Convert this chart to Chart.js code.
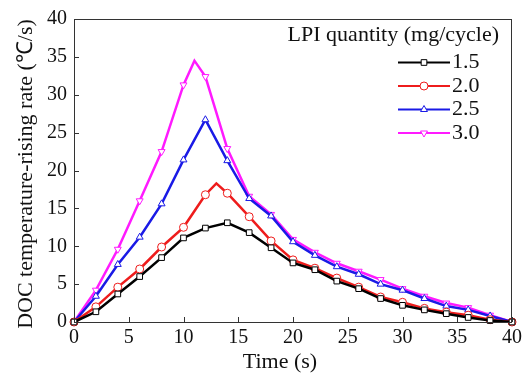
<!DOCTYPE html>
<html>
<head>
<meta charset="utf-8">
<script src="https://cdn.jsdelivr.net/npm/chart.js@4/dist/chart.umd.min.js"></script>
<style>
  html, body { margin: 0; padding: 0; background: #fff; }
  #wrap { width: 532px; height: 381px; }
</style>
</head>
<body>
<div id="wrap"><canvas id="chart" width="532" height="381"></canvas></div>
<script>
const seriesNames = ["1.5", "2.0", "2.5", "3.0"];
const legendTitle = "LPI quantity (mg/cycle)";
const xTitle = "Time (s)";
const yTitle = "DOC temperature-rising rate (\u2103/s)";

// time points (s); the 2.0 and 3.0 curves have an extra peak point with no marker
const time15 = [0, 2, 4, 6, 8, 10, 12, 14, 16, 18, 20, 22, 24, 26, 28, 30, 32, 34, 36, 38, 40];
const time20 = [0, 2, 4, 6, 8, 10, 12, 13, 14, 16, 18, 20, 22, 24, 26, 28, 30, 32, 34, 36, 38, 40];
const time25 = [0, 2, 4, 6, 8, 10, 12, 14, 16, 18, 20, 22, 24, 26, 28, 30, 32, 34, 36, 38, 40];
const time30 = [0, 2, 4, 6, 8, 10, 11, 12, 14, 16, 18, 20, 22, 24, 26, 28, 30, 32, 34, 36, 38, 40];

const rate15 = [0, 1.35, 3.7, 6.0, 8.5, 11.1, 12.4, 13.1, 11.8, 9.8, 7.8, 6.9, 5.4, 4.4, 3.1, 2.2, 1.6, 1.1, 0.6, 0.2, 0];
const rate20 = [0, 2.0, 4.6, 7.0, 9.9, 12.5, 16.8, 18.3, 17.0, 13.9, 10.7, 8.2, 7.1, 5.8, 4.6, 3.3, 2.6, 1.8, 1.3, 0.9, 0.3, 0];
const rate25 = [0, 3.4, 7.6, 11.2, 15.6, 21.4, 26.7, 21.3, 16.3, 14.0, 10.6, 8.8, 7.3, 6.3, 5.0, 4.2, 3.1, 2.1, 1.6, 0.8, 0];
const rate30 = [0, 4.2, 9.6, 16.0, 22.5, 31.3, 34.5, 32.4, 22.9, 16.6, 14.2, 10.9, 9.2, 7.75, 6.7, 5.6, 4.4, 3.4, 2.5, 1.9, 0.9, 0];

const xTicks = [0, 5, 10, 15, 20, 25, 30, 35, 40];
const yTicks = [0, 5, 10, 15, 20, 25, 30, 35, 40];

const FONT = '"Liberation Serif", "Times New Roman", serif';

function toPoints(xs, ys) {
  return xs.map((x, i) => ({ x: x, y: ys[i] }));
}

function makeDataset(label, xs, ys, color, style, rotation) {
  return {
    label: label,
    data: toPoints(xs, ys),
    borderColor: color,
    backgroundColor: "#fff",
    borderWidth: 2.5,
    pointStyle: style,
    rotation: rotation,
    // only the 2 s grid points carry a marker
    pointRadius: (ctx) => (ctx.raw && ctx.raw.x % 2 ? 0 : 4),
    pointBorderWidth: 1,
    pointBorderColor: color,
    pointBackgroundColor: "#fff",
    tension: 0,
    clip: false,
  };
}

const datasets = [
  makeDataset(seriesNames[0], time15, rate15, "#000000", "rect", 0),
  makeDataset(seriesNames[1], time20, rate20, "#ee1c1c", "circle", 0),
  makeDataset(seriesNames[2], time25, rate25, "#1a1ae6", "triangle", 0),
  makeDataset(seriesNames[3], time30, rate30, "#ff1aff", "triangle", 180),
];

// frame, inward tick marks, axis titles and the legend
const framePlugin = {
  id: "frame",
  afterDraw(chart) {
    const { ctx, chartArea: a, scales } = chart;
    ctx.save();
    ctx.strokeStyle = "#333";
    ctx.lineWidth = 1;
    ctx.strokeRect(a.left + 0.5, a.top + 0.5, a.right - a.left - 1, a.bottom - a.top);

    ctx.beginPath();
    xTicks.forEach((v) => {
      const px = Math.round(scales.x.getPixelForValue(v)) + 0.5;
      ctx.moveTo(px, a.bottom);
      ctx.lineTo(px, a.bottom - 5);
    });
    yTicks.forEach((v) => {
      const py = Math.round(scales.y.getPixelForValue(v)) + 0.5;
      ctx.moveTo(a.left, py);
      ctx.lineTo(a.left + 5, py);
    });
    ctx.stroke();

    // axis titles (the x title sits a bit left of the plot centre in the original)
    ctx.fillStyle = "#111";
    ctx.font = "22px " + FONT;
    ctx.textAlign = "center";
    ctx.textBaseline = "middle";
    ctx.fillText(xTitle, 280, 362);
    ctx.save();
    ctx.translate(26, 174);
    ctx.rotate(-Math.PI / 2);
    ctx.fillText(yTitle, 0, 0);
    ctx.restore();

    // legend
    ctx.textAlign = "right";
    ctx.fillText(legendTitle, 499, 35);

    ctx.textAlign = "left";
    chart.data.datasets.forEach((ds, i) => {
      const y = 62.5 + i * 23.5;
      ctx.strokeStyle = ds.borderColor;
      ctx.lineWidth = 2;
      ctx.beginPath();
      ctx.moveTo(398, y);
      ctx.lineTo(450, y);
      ctx.stroke();
      ctx.lineWidth = 1;
      ctx.fillStyle = "#fff";
      Chart.helpers.drawPoint(ctx, { pointStyle: ds.pointStyle, rotation: ds.rotation, radius: 4, borderWidth: 1 }, 424, y);
      ctx.fillStyle = "#111";
      ctx.fillText(ds.label, 452, y);
    });
    ctx.restore();
  },
};

new Chart(document.getElementById("chart"), {
  type: "line",
  data: { datasets: datasets },
  options: {
    responsive: false,
    animation: false,
    layout: { padding: { top: 16, right: 20, left: 0, bottom: 0 } },
    plugins: {
      legend: { display: false },
      tooltip: { enabled: false },
    },
    scales: {
      x: {
        type: "linear",
        min: 0,
        max: 40,
        afterBuildTicks: (s) => { s.ticks = xTicks.map((v) => ({ value: v })); },
        afterFit: (s) => { s.height = 59; },
        grid: { display: false, drawTicks: false },
        border: { display: false },
        ticks: { color: "#111", font: { family: FONT, size: 20 }, padding: 4, maxRotation: 0 },
      },
      y: {
        min: 0,
        max: 40,
        afterBuildTicks: (s) => { s.ticks = yTicks.map((v) => ({ value: v })); },
        afterFit: (s) => { s.width = 74; },
        grid: { display: false, drawTicks: false },
        border: { display: false },
        ticks: { color: "#111", font: { family: FONT, size: 20 }, padding: 7 },
      },
    },
  },
  plugins: [framePlugin],
});
</script>
</body>
</html>
